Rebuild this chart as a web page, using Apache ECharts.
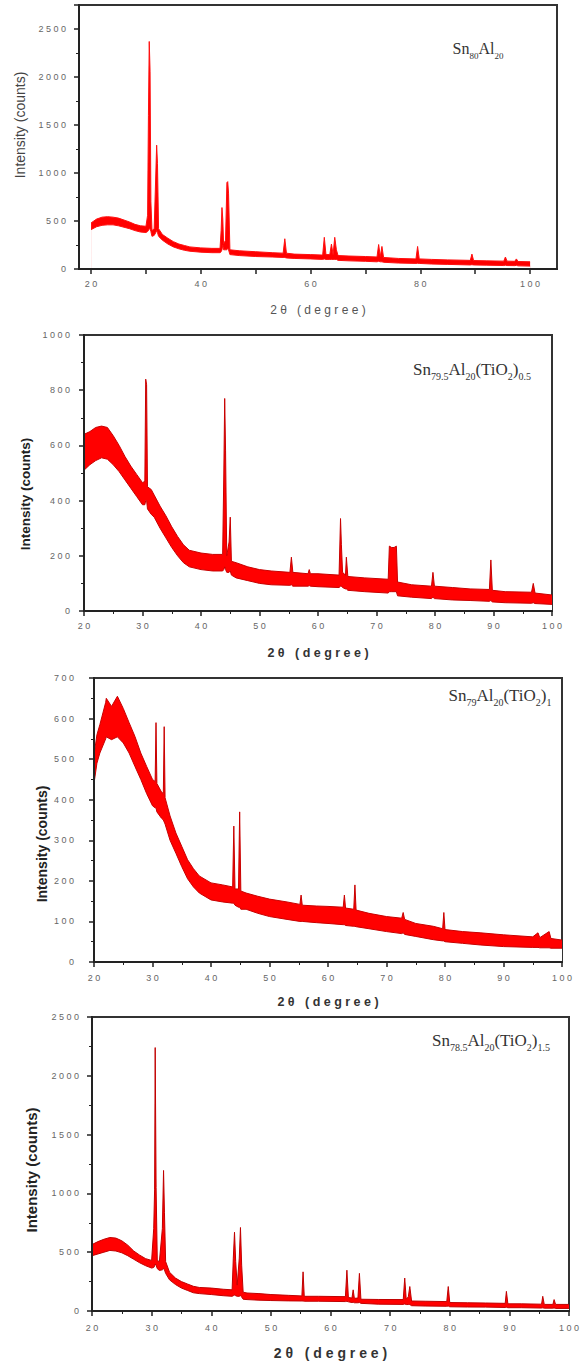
<!DOCTYPE html>
<html><head><meta charset="utf-8">
<script src="https://cdn.jsdelivr.net/npm/echarts@6/dist/echarts.min.js"></script>
<style>html,body{margin:0;padding:0;background:#fff}#c{width:586px;height:1361px}</style>
</head><body><div id="c"></div>
<script>
// ---------- Panel 1 : Sn80Al20 ----------
const p1X  = [20,21,22,23,24,25,26,27,28,29,30,30.3,30.45,30.6,30.75,30.9,31.1,31.5,31.8,31.95,32.1,32.3,33,34,35,36,37,38,40,42,43.5,43.7,43.85,44.0,44.15,44.5,44.75,44.9,45.05,45.3,47,50,53,55,55.3,55.6,57,60,62.2,62.5,62.8,63.5,63.8,64.1,64.4,64.7,65.0,67,70,72.1,72.4,72.7,73.0,73.3,76,79.2,79.5,79.8,82,85,89.1,89.4,89.7,92,95.2,95.5,95.8,97.2,97.5,97.8,100];
const p1Lo = [410,440,455,460,460,450,435,420,400,385,380,390,400,420,420,390,340,350,380,400,380,340,300,260,230,210,195,185,175,170,170,180,200,250,200,200,200,220,200,150,140,130,125,120,120,115,110,105,100,105,100,100,100,100,100,100,90,85,80,75,80,75,75,70,62,58,60,58,52,48,42,45,42,40,36,40,36,35,38,33,30];
const p1Hi = [480,520,540,545,540,530,510,490,465,450,445,560,1600,2370,2060,700,400,420,1000,1290,1100,420,360,320,285,260,245,230,220,215,215,400,640,520,260,300,900,910,790,200,190,180,170,165,315,165,155,150,145,330,150,150,260,150,330,200,140,135,130,125,255,130,235,120,110,105,235,105,100,95,90,155,88,85,82,125,82,80,105,78,75];

// ---------- Panel 2 : Sn79.5Al20(TiO2)0.5 ----------
const p2X  = [20,21,22,23,24,25,26,27,28,29,30,30.4,30.55,30.7,30.85,31.5,32.0,33,34,35,36,37,38,40,42,43.7,43.9,44.05,44.2,44.4,44.8,45.0,45.2,46,48,50,52,55.2,55.45,55.7,58.3,58.5,58.7,60,63.6,63.85,64.0,64.2,64.7,64.85,65.1,68,72.0,72.2,72.6,73.0,73.4,73.6,76,79.4,79.65,79.9,83,86,89.3,89.55,89.8,92,96.5,96.8,97.1,100];
const p2Lo = [510,530,545,555,550,530,505,475,445,415,385,385,400,400,370,350,340,300,265,230,200,175,160,150,145,145,150,160,150,140,140,145,130,120,110,100,95,93,95,90,90,92,90,88,85,90,90,85,80,80,75,70,65,70,70,70,70,55,50,45,50,45,40,38,35,38,33,30,28,30,27,24];
const p2Hi = [640,650,665,670,665,635,600,560,525,495,465,470,840,820,450,440,420,380,345,305,270,240,220,210,205,205,500,770,580,200,250,340,180,175,160,150,145,140,195,140,135,150,135,135,130,335,240,140,130,195,125,120,115,235,230,230,235,105,95,90,140,90,85,80,78,185,75,70,68,100,65,58];

// ---------- Panel 3 : Sn79Al20(TiO2)1 ----------
const p3X  = [20,20.5,21,22,22.1,23,24,25,26,27,28,29,30,30.45,30.6,30.75,31.5,31.85,32.0,32.15,33,34,35,36,37,38,40,42,43.7,43.9,44.1,44.7,44.9,45.1,46,48,50,53,55.2,55.4,55.6,58,60,62.6,62.8,63.0,64.4,64.6,64.8,67,70,72.6,72.85,73.1,75,78,79.6,79.8,80.0,83,86,90,95,95.9,96.2,97.8,98.1,100];
const p3Lo = [440,490,515,550,555,548,555,540,515,482,450,415,385,380,380,370,355,350,345,340,300,268,235,205,185,170,153,148,145,145,140,135,135,130,130,120,112,105,100,100,100,97,95,92,92,90,88,88,87,82,75,70,72,68,63,55,52,52,50,46,42,38,36,36,35,35,34,34];
const p3Hi = [510,560,585,640,650,630,655,625,590,556,515,482,450,445,590,440,420,415,580,405,360,318,285,252,230,212,195,190,185,335,180,180,370,175,170,162,155,148,142,165,140,138,137,135,165,133,130,190,128,120,112,108,122,105,95,88,82,122,80,75,72,67,62,72,60,75,58,54];

// ---------- Panel 4 : Sn78.5Al20(TiO2)1.5 ----------
const p4X  = [20,21,22,23,24,25,26,27,28,29,30,30.35,30.5,30.6,30.75,30.95,31.3,31.8,32.0,32.15,32.35,33,34,35,36,37,38,40,42,43.5,43.7,43.9,44.1,44.35,44.7,44.9,45.1,45.35,46,48,50,53,55.2,55.4,55.6,58,62.5,62.75,63.0,63.6,63.8,64.0,64.6,64.85,65.1,68,72.2,72.45,72.7,73.05,73.3,73.6,76,79.5,79.75,80.0,83,86,89.3,89.5,89.75,92,95.4,95.6,95.85,97.3,97.5,97.75,100];
const p4Lo = [470,485,500,515,510,495,470,440,410,385,365,370,380,400,390,360,345,350,360,350,320,265,225,195,175,155,148,140,130,125,130,135,130,125,125,130,120,100,97,92,89,86,85,85,83,83,80,82,78,72,75,70,70,72,65,58,56,60,55,55,55,45,42,40,42,36,34,33,30,32,28,28,25,27,24,24,26,22,22];
const p4Hi = [565,590,610,625,620,597,560,510,475,445,430,700,1030,2240,1050,430,420,700,1195,840,420,330,280,250,230,210,200,195,185,180,450,670,420,220,450,710,390,160,153,148,140,133,128,333,125,125,122,347,115,110,180,108,110,320,100,98,97,280,100,120,208,85,83,80,208,72,70,68,65,167,61,61,58,125,56,56,97,56,56];

// ---------- axis / label texts ----------
const p1XLabels = [20,40,60,80,100];
const p1XTicks  = [20,30,40,50,60,70,80,90,100];
const sampleNames = [
  [['a','Sn'],['s','80'],['a','Al'],['s','20']],
  [['a','Sn'],['s','79.5'],['a','Al'],['s','20'],['a','(TiO'],['s','2'],['a',')'],['s','0.5']],
  [['a','Sn'],['s','79'],['a','Al'],['s','20'],['a','(TiO'],['s','2'],['a',')'],['s','1']],
  [['a','Sn'],['s','78.5'],['a','Al'],['s','20'],['a','(TiO'],['s','2'],['a',')'],['s','1.5']]
];
const xTitle = '2θ (degree)';
const yTitle = 'Intensity (counts)';

const spaced = s => String(s).split('').join(' ');

const grids = [
  {left:79, top:5,    width:478, height:264},
  {left:84, top:335,  width:468, height:276},
  {left:94, top:678,  width:468, height:284},
  {left:92, top:1017, width:477, height:300}
];
const yCfg = [
  {max:2750, interval:500},
  {max:1000, interval:200},
  {max:700,  interval:100},
  {max:2500, interval:500}
];
const data = [[p1X,p1Lo,p1Hi],[p2X,p2Lo,p2Hi],[p3X,p3Lo,p3Hi],[p4X,p4Lo,p4Hi]];
const edgeColor = ['#ff1010','#c80000','#c80000','#c00000'];

const axisLine = {show:true, onZero:false, lineStyle:{color:'#222', width:2}};
const tickLbl = {color:'#666', fontSize:9, fontFamily:'Liberation Sans'};

const xAxis = grids.map((g,i) => {
  const base = {
    type:'value', gridIndex:i, position:'bottom', z:5,
    axisLine, splitLine:{show:false},
    axisTick:{show:true, inside:false, length:5, lineStyle:{color:'#222', width:1.5}},
    axisLabel:Object.assign({margin:[10,10,11,12][i], formatter:v=>spaced(v)}, tickLbl),
    name: spaced(xTitle), nameLocation:'middle', nameGap:[35,35,33,35][i],
    nameTextStyle: i===0 ? {color:'#555', fontSize:12, fontFamily:'Liberation Sans'}
                         : {color:'#333', fontSize:[12,12.5,12.5,14][i], fontWeight:'bold', fontFamily:'Liberation Sans'}
  };
  if (i===0) {
    base.min = 17.8; base.max = 104.9;
    base.axisLabel.customValues = p1XLabels;
    base.axisTick.customValues = p1XTicks;
  } else {
    base.min = 20; base.max = 100; base.interval = 10;
    base.minorTick = {show:true, splitNumber:2, length:3, lineStyle:{color:'#222'}};
    base.axisLabel.showMaxLabel = true;
  }
  return base;
});

const yAxis = grids.map((g,i) => ({
  type:'value', gridIndex:i, min:0, max:yCfg[i].max, interval:yCfg[i].interval, z:5,
  axisLine, splitLine:{show:false},
  axisTick:{show:true, length:5, lineStyle:{color:'#222', width:1.5}},
  minorTick:{show:true, splitNumber:2, length:3, lineStyle:{color:'#222'}},
  axisLabel:Object.assign({margin:[13,14,20,13][i], showMaxLabel: i!==0, formatter:v=>spaced(v)}, tickLbl)
}));

// Each pattern is drawn as a band: red area under the upper envelope,
// then a white area under the lower envelope masks what lies below the band.
const series = [];
data.forEach(([X,Lo,Hi],i) => {
  series.push({
    type:'line', xAxisIndex:i, yAxisIndex:i, symbol:'none', silent:true, z:2,
    lineStyle:{color:edgeColor[i], width:1}, areaStyle:{color:'#ff0000', opacity:1},
    data:X.map((x,k)=>[x,Hi[k]])
  });
  series.push({
    type:'line', xAxisIndex:i, yAxisIndex:i, symbol:'none', silent:true, z:3,
    lineStyle:{color:edgeColor[i], width:1}, areaStyle:{color:'#ffffff', opacity:1},
    data:X.map((x,k)=>[x,Lo[k]])
  });
});

const yTitlePos = [[20,125,14,'normal','#444'],[25,494,13.5,'bold','#222'],[42,844,14,'bold','#222'],[31,1170,15,'bold','#222']];
const labelPos = [[478,48,16,9],[472,369,17,10],[500,695,17,10],[491,1040,17,10]];

const graphic = [];
yTitlePos.forEach(([x,y,fs,fw,c]) => graphic.push({
  type:'text', x, y, rotation:Math.PI/2, silent:true,
  style:{text:yTitle, fontSize:fs, fontWeight:fw, fill:c, fontFamily:'Liberation Sans', align:'center', verticalAlign:'middle'}
}));
labelPos.forEach(([x,y,fa,fs],i) => graphic.push({
  type:'text', x, y, silent:true,
  style:{
    text: sampleNames[i].map(([k,t])=>'{'+k+'|'+t+'}').join(''),
    align:'center', verticalAlign:'middle',
    rich:{
      a:{fontSize:fa, fontFamily:'Liberation Serif', fill:'#333', lineHeight:fa+4, verticalAlign:'middle'},
      s:{fontSize:fs, fontFamily:'Liberation Serif', fill:'#333', lineHeight:fs, verticalAlign:'bottom', padding:[0,0,-2,0]}
    }
  }
}));

const chart = echarts.init(document.getElementById('c'), null, {renderer:'svg'});
chart.setOption({
  animation:false,
  backgroundColor:'#fff',
  grid: grids.map(g => Object.assign({show:true, borderColor:'#333', borderWidth:2, backgroundColor:'transparent'}, g)),
  xAxis, yAxis, series, graphic
});
</script></body></html>
